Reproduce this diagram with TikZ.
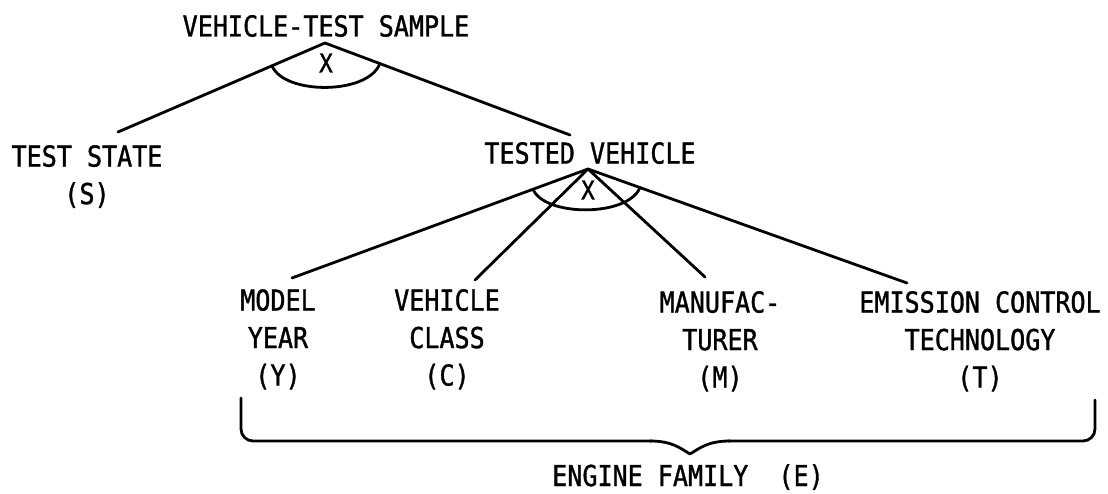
\documentclass[tikz,border=0pt]{standalone}
\usepackage{fontspec}
\setmonofont[FakeStretch=0.87,FakeBold=1.2]{DejaVu Sans Mono}
\usetikzlibrary{calc}
\begin{document}
\begin{tikzpicture}[x=1pt,y=-1pt,
  lbl/.style={font=\ttfamily\fontsize{28.8}{37.5}\selectfont, inner sep=0pt, align=center},
  xlbl/.style={font=\ttfamily\fontsize{26}{30}\selectfont, inner sep=0pt},
  link/.style={line width=2.8pt, line cap=round, line join=round},
  ]
\useasboundingbox (0,0) rectangle (1108,494);
% top level
\node[lbl] (vts) at (326,26) {VEHICLE-TEST SAMPLE};
\coordinate (a1) at (325,43);
\node[lbl,anchor=north] (ts) at (87,145) {TEST STATE\\(S)};
\node[lbl,anchor=north] (tv) at (590,142) {TESTED VEHICLE};
\coordinate (ts-end) at (118,132);
\coordinate (tv-end) at (570,135);
\draw[link] (a1) -- (ts-end);
\draw[link] (a1) -- (tv-end);
\coordinate (arc1l) at ($(a1)!0.256!(ts-end)$);
\coordinate (arc1r) at ($(a1)!0.224!(tv-end)$);
\draw[link] (arc1l) .. controls (284,95) and (368,95) .. (arc1r);
\node[xlbl] (x1) at (326,63) {X};
% second level
\coordinate (a2) at (588,169);
\node[lbl,anchor=north] (my) at (278,289) {MODEL\\YEAR\\(Y)};
\node[lbl,anchor=north] (vc) at (447,289) {VEHICLE\\CLASS\\(C)};
\node[lbl,anchor=north] (mf) at (720,291) {MANUFAC-\\TURER\\(M)};
\node[lbl,anchor=north] (ec) at (980,291) {EMISSION CONTROL\\TECHNOLOGY\\(T)};
\coordinate (my-end) at (292,278);
\coordinate (vc-end) at (475,280);
\coordinate (mf-end) at (705,277);
\coordinate (ec-end) at (907,283);
\draw[link] (a2) -- (my-end);
\draw[link] (a2) -- (vc-end);
\draw[link] (a2) -- (mf-end);
\draw[link] (a2) -- (ec-end);
\coordinate (arc2l) at ($(a2)!0.186!(my-end)$);
\coordinate (arc2r) at ($(a2)!0.163!(ec-end)$);
\draw[link] (arc2l) .. controls (545,217) and (628,217) .. (arc2r);
\node[xlbl] (x2) at (588,190) {X};
% brace
\draw[link, rounded corners=12] (241,398) -- (241,441) -- (652,441);
\draw[link] (650,441) .. controls (672,441) and (680,448) .. (690,454)
                      .. controls (700,448) and (708,441) .. (730,441);
\draw[link, rounded corners=12] (728,441) -- (1095,441) -- (1095,400);
\node[lbl] (ef) at (688,477) {ENGINE FAMILY\ \ (E)};
\end{tikzpicture}
\end{document}
